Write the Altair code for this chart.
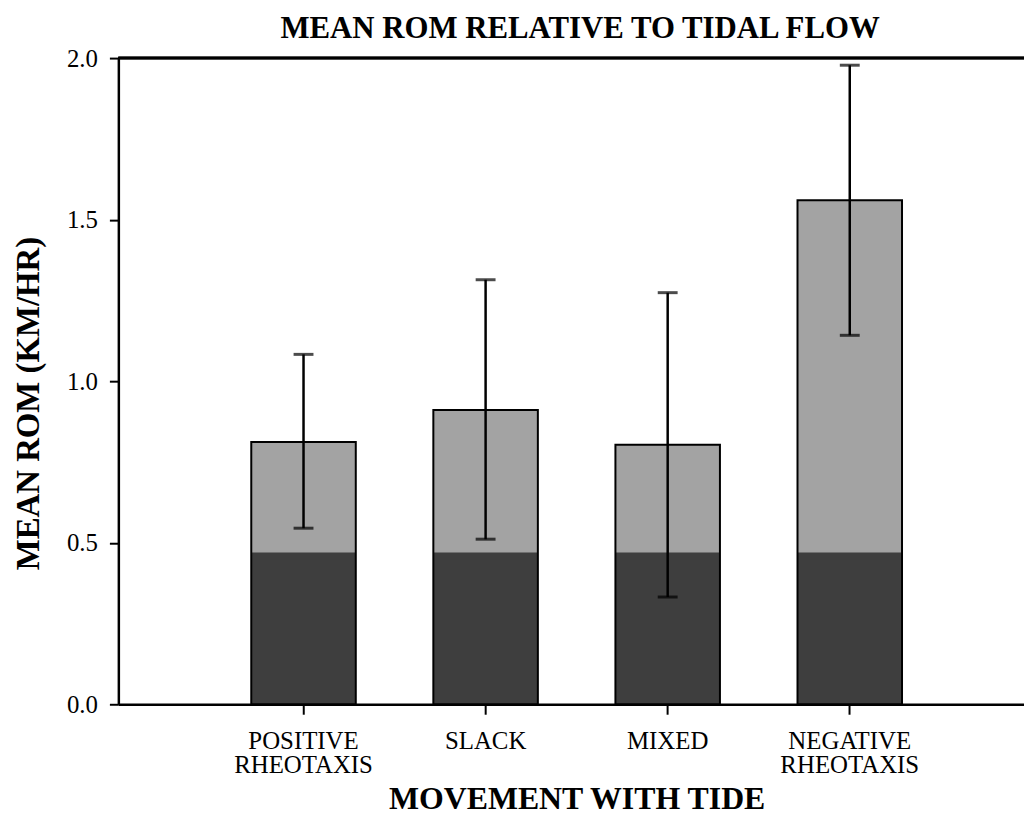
import altair as alt
import pandas as pd

categories = ["POSITIVE RHEOTAXIS", "SLACK", "MIXED", "NEGATIVE RHEOTAXIS"]
means = [0.812, 0.911, 0.803, 1.56]
upper = [1.083, 1.314, 1.274, 1.978]
lower = [0.545, 0.511, 0.332, 1.142]
dark_level = [0.47, 0.47, 0.47, 0.47]
y_ticks = [0.0, 0.5, 1.0, 1.5, 2.0]

df = pd.DataFrame({
    "cat": categories,
    "mean": means,
    "upper": upper,
    "lower": lower,
    "dark": dark_level,
})

FONT = "Liberation Serif"
W = 911
H = 650

xscale = alt.Scale(domain=categories, range=[0, 922], paddingInner=0.426, paddingOuter=0.73)
yscale = alt.Scale(domain=[0, 2], nice=False)

x_enc = alt.X(
    "cat:N", scale=xscale, sort=categories,
    axis=alt.Axis(
        title="MOVEMENT WITH TIDE", labelAngle=0,
        labelExpr="split(datum.label, ' ')",
        labelFont=FONT, labelFontSize=25, labelColor="black", labelLineHeight=25,
        labelPadding=14, tickSize=10, tickWidth=2, tickColor="black",
        domainColor="black", domainWidth=2.5,
        titleFont=FONT, titleFontSize=32, titleFontWeight="bold", titleColor="black",
        titleY=105, titleBaseline="alphabetic",
    ),
)
y_enc = alt.Y(
    "mean:Q", scale=yscale,
    axis=alt.Axis(
        title="MEAN ROM (KM/HR)", values=y_ticks, format=".1f", grid=False,
        labelFont=FONT, labelFontSize=25, labelColor="black", labelPadding=12,
        tickSize=9, tickWidth=2, tickColor="black",
        domainColor="black", domainWidth=2.5,
        titleFont=FONT, titleFontSize=33, titleFontWeight="bold", titleColor="black",
        titleX=-80, titleY=347, titleBaseline="alphabetic", titleAngle=-90,
    ),
)

base = alt.Chart(df)

light = base.mark_bar(color="#a3a3a3").encode(x=x_enc, y=y_enc)
dark = base.mark_bar(color="#3e3e3e").encode(x="cat:N", y=alt.Y("dark:Q"))
outline = base.mark_bar(fillOpacity=0, stroke="black", strokeWidth=2).encode(x="cat:N", y="mean:Q")
err = base.mark_rule(color="black", strokeWidth=2.5).encode(
    x="cat:N", y=alt.Y("lower:Q"), y2="upper:Q")
cap_hi = base.mark_tick(color="black", size=20, thickness=3).encode(x="cat:N", y="upper:Q")
cap_lo = base.mark_tick(color="black", size=20, thickness=3).encode(x="cat:N", y="lower:Q")
top_line = base.mark_rule(color="black", strokeWidth=2.5).encode(
    y=alt.datum(2.0), x=alt.value(0), x2=alt.value(922))

chart = alt.layer(light, dark, outline, err, cap_hi, cap_lo, top_line).properties(
    width=W, height=H,
    autosize="none",
    padding={"left": 111, "top": 48, "right": 0, "bottom": 112},
    title=alt.TitleParams(
        "MEAN ROM RELATIVE TO TIDAL FLOW", font=FONT, fontSize=31, fontWeight="bold",
        color="black", anchor="middle", offset=1, dx=9,
    ),
).configure_view(strokeWidth=0).configure(background="white")

chart.save("out.html", embed_options={"renderer": "svg", "actions": False})
